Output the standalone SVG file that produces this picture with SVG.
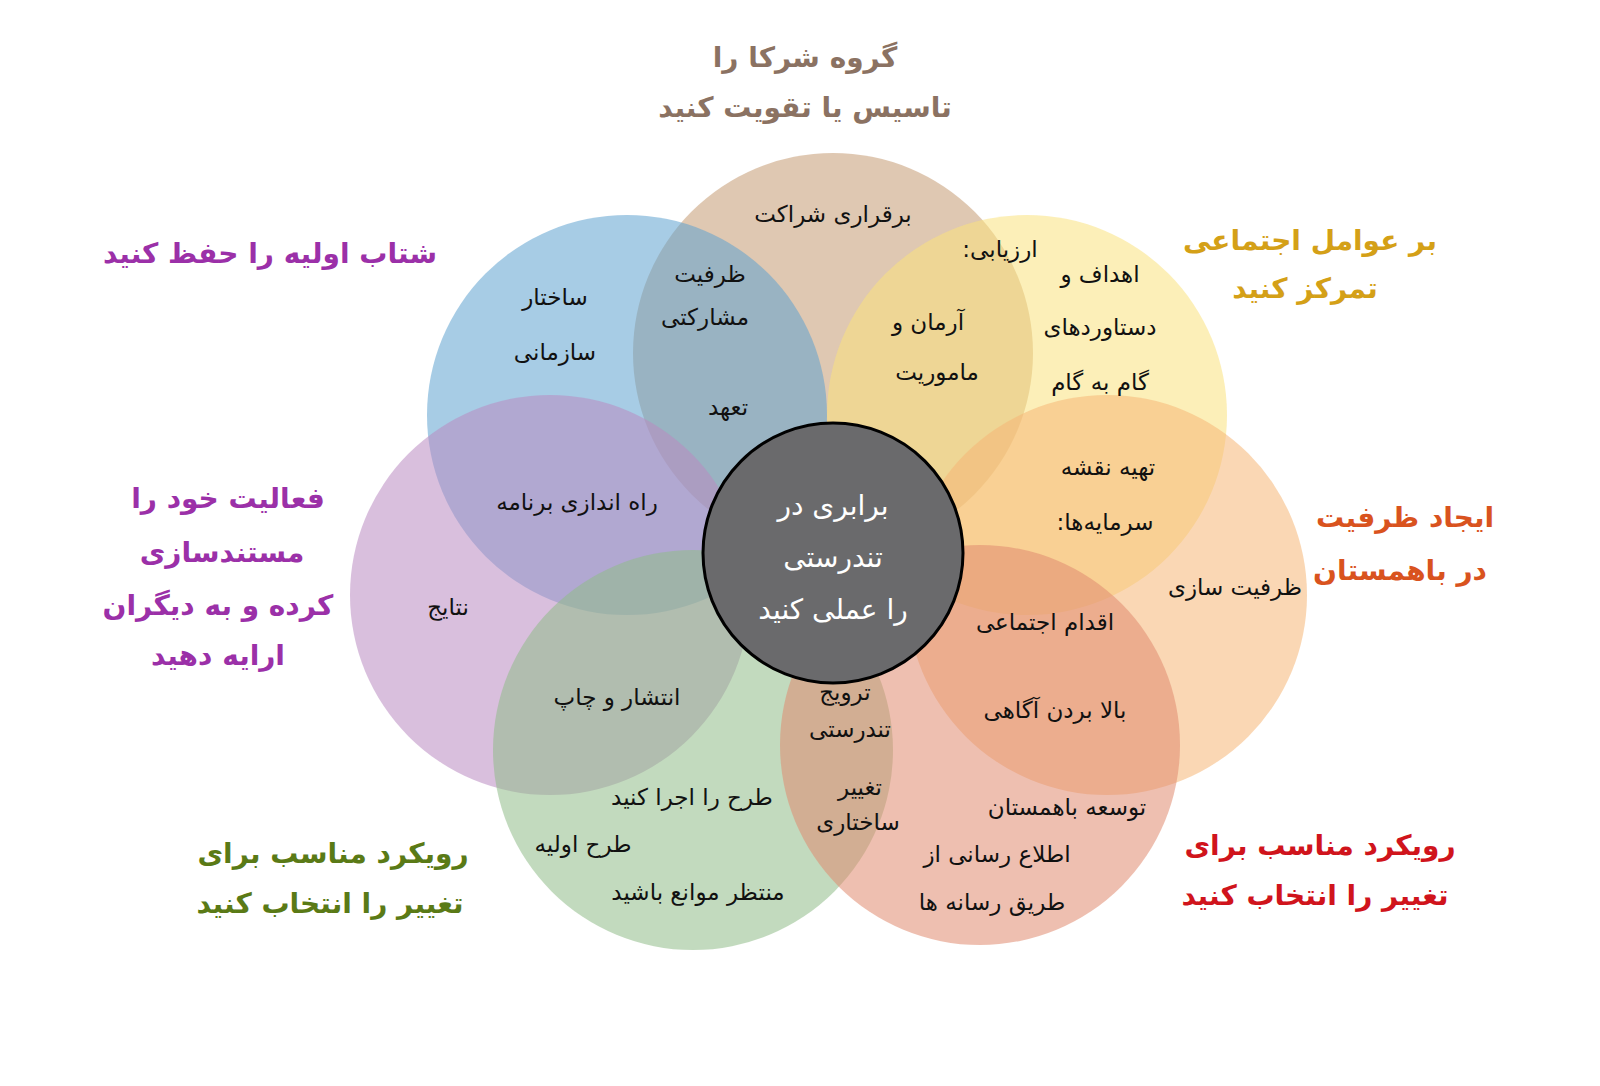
<svg xmlns="http://www.w3.org/2000/svg" width="1600" height="1086" viewBox="0 0 1600 1086">
<style>
.c{opacity:0.55}
text{font-family:"DejaVu Sans","Noto Sans",sans-serif;text-anchor:middle;direction:rtl}
.i{font-size:23px;fill:#111}
.t{font-size:28px;font-weight:bold}
.m{font-size:28px;fill:#fff}
</style>
<rect width="1600" height="1086" fill="#fff"/>
<g id="circles">
<circle id="n-brown" class="c" cx="833" cy="353" r="200" fill="#c49a72"/>
<circle id="n-blue" class="c" cx="627" cy="415" r="200" fill="#5ea3cf"/>
<circle id="n-yellow" class="c" cx="1027" cy="415" r="200" fill="#f9e27e"/>
<circle id="n-purple" class="c" cx="550" cy="595" r="200" fill="#b98bc1"/>
<circle id="n-orange" class="c" cx="1107" cy="595" r="200" fill="#f6b676"/>
<circle id="n-green" class="c" cx="693" cy="750" r="200" fill="#8fbb89"/>
<circle id="n-red" class="c" cx="980" cy="745" r="200" fill="#e08a70"/>
</g>
<g id="center">
<circle cx="833" cy="553" r="130" fill="#6a6a6c" stroke="#000" stroke-width="3"/>
<text class="m" x="833" y="515">برابری در</text>
<text class="m" x="833" y="567">تندرستی</text>
<text class="m" x="833" y="619">را عملی کنید</text>
</g>
<g id="inner">
<text class="i" x="833" y="222">برقراری شراکت</text>
<text class="i" x="555" y="305">ساختار</text>
<text class="i" x="555" y="360">سازمانی</text>
<text class="i" x="710" y="282">ظرفیت</text>
<text class="i" x="705" y="325">مشارکتی</text>
<text class="i" x="728" y="415">تعهد</text>
<text class="i" x="1000" y="257">ارزیابی:</text>
<text class="i" x="928" y="330">آرمان و</text>
<text class="i" x="937" y="380">ماموریت</text>
<text class="i" x="1100" y="282">اهداف و</text>
<text class="i" x="1100" y="335">دستاوردهای</text>
<text class="i" x="1100" y="390">گام به گام</text>
<text class="i" x="577" y="510">راه اندازی برنامه</text>
<text class="i" x="1108" y="475">تهیه نقشه</text>
<text class="i" x="1105" y="530">سرمایه‌ها:</text>
<text class="i" x="448" y="615">نتایج</text>
<text class="i" x="1235" y="595">ظرفیت سازی</text>
<text class="i" x="1045" y="630">اقدام اجتماعی</text>
<text class="i" x="617" y="705">انتشار و چاپ</text>
<text class="i" x="845" y="700">ترویج</text>
<text class="i" x="850" y="737">تندرستی</text>
<text class="i" x="1055" y="718">بالا بردن آگاهی</text>
<text class="i" x="860" y="795">تغییر</text>
<text class="i" x="858" y="830">ساختاری</text>
<text class="i" x="692" y="805">طرح را اجرا کنید</text>
<text class="i" x="583" y="852">طرح اولیه</text>
<text class="i" x="698" y="900">منتظر موانع باشید</text>
<text class="i" x="1067" y="815">توسعه باهمستان</text>
<text class="i" x="997" y="862">اطلاع رسانی از</text>
<text class="i" x="992" y="910">طریق رسانه ها</text>
</g>
<g id="titles">
<text class="t" fill="#8b7262" x="805" y="67">گروه شرکا را</text>
<text class="t" fill="#8b7262" x="805" y="117">تاسیس یا تقویت کنید</text>
<text class="t" fill="#9b30a8" x="270" y="263">شتاب اولیه را حفظ کنید</text>
<text class="t" fill="#d4a017" x="1310" y="250">بر عوامل اجتماعی</text>
<text class="t" fill="#d4a017" x="1305" y="298">تمرکز کنید</text>
<text class="t" fill="#9b30a8" x="228" y="508">فعالیت خود را</text>
<text class="t" fill="#9b30a8" x="222" y="562">مستندسازی</text>
<text class="t" fill="#9b30a8" x="218" y="615">کرده و به دیگران</text>
<text class="t" fill="#9b30a8" x="218" y="665">ارایه دهید</text>
<text class="t" fill="#d9531e" x="1405" y="527">ایجاد ظرفیت</text>
<text class="t" fill="#d9531e" x="1400" y="580">در باهمستان</text>
<text class="t" fill="#5a7a16" x="333" y="863">رویکرد مناسب برای</text>
<text class="t" fill="#5a7a16" x="330" y="913">تغییر را انتخاب کنید</text>
<text class="t" fill="#d0141c" x="1320" y="855">رویکرد مناسب برای</text>
<text class="t" fill="#d0141c" x="1315" y="905">تغییر را انتخاب کنید</text>
</g>
</svg>
